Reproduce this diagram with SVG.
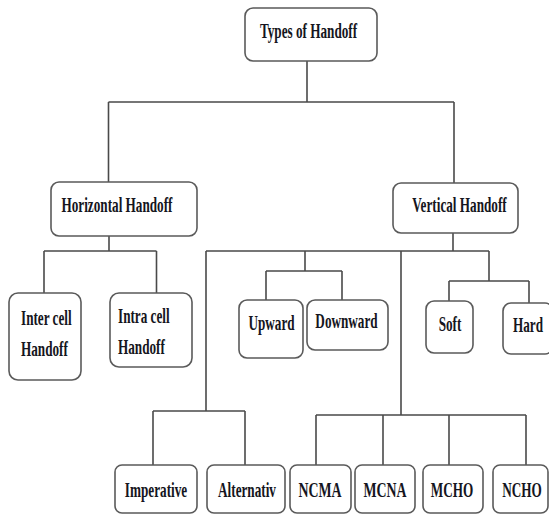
<svg xmlns="http://www.w3.org/2000/svg" width="549" height="515" viewBox="0 0 549 515">
<style>
.box{fill:#fff;stroke:#5a5a5a;stroke-width:1.6}
.ln{fill:none;stroke:#4a4a4a;stroke-width:1.6}
text{font-family:"Liberation Serif","Times New Roman",serif;font-weight:bold;font-size:22px;fill:#151520;text-anchor:middle}
text.s{text-anchor:start}
</style>
<rect width="549" height="515" fill="#fff"/>
<g id="connectors">
<path class="ln" d="M307 61V102M108.5 102H454M108.5 102V182M454 102V183"/>
<path class="ln" d="M109 236V251M44 251H156.5M44 251V293M156.5 251V293"/>
<path class="ln" d="M453 233V251M206 251H489M489 251V281M449 281H529M449 281V301M529 281V303"/>
<path class="ln" d="M305 251V271M266 271H342M266 271V300M342 271V300"/>
<path class="ln" d="M206 251V411M153 411H245M153 411V465M245 411V465"/>
<path class="ln" d="M401 251V415M316 415H526M316 415V465M383 415V465M449 415V465M526 415V465"/>
</g>
<g id="types"><rect class="box" x="245" y="8" width="132" height="53" rx="8"/><text transform="translate(308.5 38) scale(0.6 1)">Types of Handoff</text></g>
<g id="horizontal"><rect class="box" x="51" y="182" width="146" height="54" rx="8"/><text transform="translate(117 212) scale(0.6 1)">Horizontal Handoff</text></g>
<g id="vertical"><rect class="box" x="393" y="183" width="125" height="50" rx="8"/><text transform="translate(459.5 212) scale(0.6 1)">Vertical Handoff</text></g>
<g id="intercell"><rect class="box" x="9" y="293" width="72" height="87" rx="9"/><text class="s" transform="translate(21 325) scale(0.6 1)">Inter cell</text><text class="s" transform="translate(21 356) scale(0.6 1)">Handoff</text></g>
<g id="intracell"><rect class="box" x="110" y="293" width="82" height="74" rx="9"/><text class="s" transform="translate(118 323) scale(0.6 1)">Intra cell</text><text class="s" transform="translate(118 354) scale(0.6 1)">Handoff</text></g>
<g id="upward"><rect class="box" x="239" y="300" width="64" height="58" rx="8"/><text transform="translate(271.5 330) scale(0.6 1)">Upward</text></g>
<g id="downward"><rect class="box" x="307" y="300" width="81" height="50" rx="8"/><text transform="translate(346.5 328) scale(0.6 1)">Downward</text></g>
<g id="soft"><rect class="box" x="426" y="301" width="47" height="52" rx="8"/><text transform="translate(450 331) scale(0.6 1)">Soft</text></g>
<g id="hard"><rect class="box" x="503" y="303" width="50" height="51" rx="8"/><text transform="translate(528 332) scale(0.6 1)">Hard</text></g>
<g id="imperative"><rect class="box" x="115" y="465" width="82" height="48" rx="7"/><text transform="translate(156 497) scale(0.6 1)">Imperative</text></g>
<g id="alternativ"><rect class="box" x="207" y="465" width="78" height="48" rx="7"/><text transform="translate(247 497) scale(0.6 1)">Alternativ</text></g>
<g id="ncma"><rect class="box" x="290" y="465" width="61" height="48" rx="7"/><text transform="translate(320 497) scale(0.63 1)">NCMA</text></g>
<g id="mcna"><rect class="box" x="355" y="465" width="60" height="48" rx="7"/><text transform="translate(385 497) scale(0.63 1)">MCNA</text></g>
<g id="mcho"><rect class="box" x="423" y="465" width="60" height="48" rx="7"/><text transform="translate(452 497) scale(0.6 1)">MCHO</text></g>
<g id="ncho"><rect class="box" x="493" y="465" width="55" height="48" rx="7"/><text transform="translate(522 497) scale(0.6 1)">NCHO</text></g>
</svg>
